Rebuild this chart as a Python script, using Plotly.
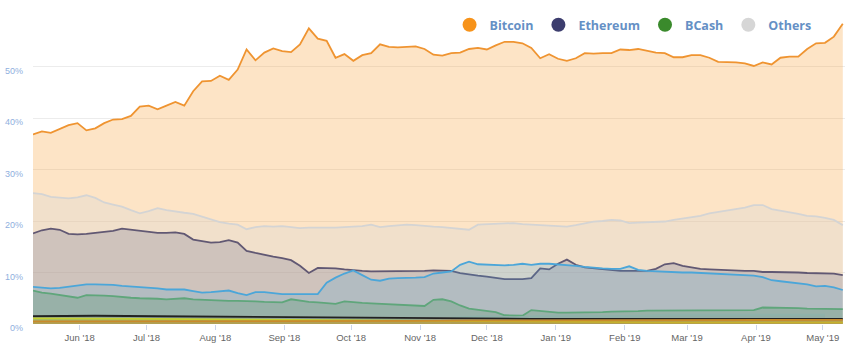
import pandas as pd
import plotly.graph_objects as go

# Daily market-cap dominance (%), sampled every 4 days from 2018-05-11
dates = pd.date_range("2018-05-11", periods=92, freq="4D")

bitcoin = [
    36.8, 37.4, 37.1, 37.8, 38.6, 39.0, 37.6, 38.0, 39.0, 39.7,
    39.8, 40.4, 42.2, 42.4, 41.7, 42.4, 43.1, 42.4, 45.2, 47.1,
    47.2, 48.2, 47.4, 49.4, 53.3, 51.2, 52.7, 53.5, 53.0, 52.8,
    54.3, 57.4, 55.4, 55.0, 51.7, 52.4, 51.1, 52.2, 52.6, 54.3,
    53.8, 53.7, 53.8, 53.9, 53.4, 52.3, 52.1, 52.6, 52.7, 53.4,
    53.6, 53.3, 54.1, 54.8, 54.8, 54.5, 53.6, 51.6, 52.4, 51.5,
    51.1, 51.6, 52.6, 52.5, 52.6, 52.6, 53.3, 53.2, 53.4, 53.0,
    52.7, 52.6, 51.8, 51.8, 52.2, 52.2, 51.7, 50.9, 50.9, 50.8,
    50.6, 50.1, 50.8, 50.4, 51.7, 51.9, 51.9, 53.4, 54.5, 54.6,
    55.8, 58.3,
]

others = [
    25.4, 25.2, 24.7, 24.5, 24.4, 24.6, 25.0, 24.5, 23.6, 23.2,
    22.8, 22.1, 21.5, 21.9, 22.5, 22.1, 21.8, 21.6, 21.4, 20.9,
    20.4, 19.8, 19.5, 19.3, 18.4, 18.8, 19.0, 18.9, 19.0, 18.8,
    18.6, 18.7, 18.7, 18.6, 18.7, 18.8, 18.9, 19.0, 19.3, 18.8,
    19.0, 19.1, 19.3, 19.2, 19.0, 18.9, 18.8, 18.6, 18.5, 18.3,
    19.3, 19.4, 19.5, 19.6, 19.6, 19.4, 19.3, 19.1, 19.0, 18.9,
    18.9, 19.2, 19.6, 19.9, 20.0, 20.2, 20.1, 19.6, 19.7, 19.8,
    19.8, 19.9, 20.2, 20.5, 20.8, 21.0, 21.5, 21.8, 22.1, 22.3,
    22.6, 23.1, 23.1, 22.3, 22.0, 21.8, 21.4, 21.0, 20.9, 20.6,
    20.2, 19.2,
]

ethereum = [
    17.6, 18.2, 18.5, 18.3, 17.5, 17.4, 17.5, 17.7, 17.9, 18.1,
    18.5, 18.3, 18.0, 17.8, 17.7, 17.7, 17.8, 17.5, 16.4, 16.1,
    15.8, 15.9, 16.3, 15.8, 14.2, 13.8, 13.4, 13.1, 12.8, 12.4,
    11.3, 9.9, 10.9, 10.9, 10.8, 10.6, 10.4, 10.3, 10.2, 10.2,
    10.2, 10.3, 10.3, 10.3, 10.3, 10.4, 10.3, 10.3, 9.9, 9.6,
    9.4, 9.2, 8.9, 8.7, 8.7, 8.7, 8.9, 10.8, 10.6, 11.7,
    12.5, 11.5, 11.0, 10.8, 10.6, 10.4, 10.3, 10.3, 10.3, 10.3,
    10.7, 11.6, 11.8, 11.3, 11.0, 10.7, 10.6, 10.5, 10.4, 10.4,
    10.3, 10.3, 10.1, 10.1, 10.1, 10.1, 10.0, 9.9, 9.9, 9.8,
    9.8, 9.5,
]

ripple = [
    7.2, 7.0, 6.9, 7.0, 7.2, 7.5, 7.7, 7.7, 7.7, 7.6,
    7.4, 7.3, 7.2, 7.1, 6.9, 6.7, 6.7, 6.7, 6.4, 6.1,
    6.2, 6.4, 6.5, 6.0, 5.6, 6.2, 6.2, 6.0, 5.8, 5.8,
    5.8, 5.8, 5.8, 8.0, 9.0, 9.8, 10.4, 9.5, 8.6, 8.4,
    8.8, 8.9, 8.9, 9.0, 9.1, 9.8, 10.0, 10.2, 11.5, 12.1,
    11.6, 11.5, 11.4, 11.4, 11.5, 11.7, 11.5, 11.7, 11.7, 11.6,
    11.4, 11.3, 11.1, 10.9, 10.8, 10.7, 10.7, 11.2, 10.5, 10.3,
    10.2, 10.1, 10.0, 10.0, 10.0, 9.9, 9.8, 9.7, 9.6, 9.5,
    9.5, 9.4, 9.1, 8.5, 8.3, 8.1, 7.9, 7.7, 7.3, 7.4,
    7.1, 6.6,
]

bcash = [
    6.5, 6.1, 5.9, 5.6, 5.4, 5.1, 5.6, 5.6, 5.5, 5.4,
    5.2, 5.1, 5.0, 5.0, 4.9, 4.8, 4.9, 5.0, 4.8, 4.7,
    4.6, 4.6, 4.5, 4.5, 4.5, 4.4, 4.3, 4.2, 4.2, 4.8,
    4.5, 4.3, 4.2, 4.0, 3.9, 4.4, 4.2, 4.1, 4.0, 3.9,
    3.8, 3.8, 3.7, 3.6, 3.5, 4.7, 4.8, 4.4, 3.6, 3.0,
    2.8, 2.5, 2.3, 1.7, 1.6, 1.6, 2.7, 2.5, 2.3, 2.2,
    2.2, 2.2, 2.2, 2.3, 2.3, 2.4, 2.4, 2.4, 2.5, 2.6,
    2.6, 2.6, 2.6, 2.6, 2.6, 2.6, 2.6, 2.6, 2.6, 2.6,
    2.6, 2.7, 3.2, 3.2, 3.2, 3.2, 3.1, 3.0, 3.0, 2.9,
    2.9, 2.9,
]

# Smaller coins, sampled more coarsely
dates_coarse = pd.date_range("2018-05-11", periods=14, freq="28D")
litecoin = [1.5, 1.6, 1.5, 1.4, 1.3, 1.2, 1.1, 1.0, 1.0, 1.0, 1.0, 1.0, 1.0, 1.0]
eos = [0.5, 0.5, 0.5, 0.5, 0.5, 0.6, 0.6, 0.7, 0.7, 0.7, 0.8, 0.8, 0.8, 0.8]
stellar = [1.1, 1.1, 1.0, 0.9, 0.8, 0.7, 0.6, 0.5, 0.4, 0.4, 0.3, 0.3, 0.3, 0.3]

dates_bsv = pd.date_range("2018-11-15", periods=13, freq="14D")
bsv = [1.2, 1.5, 1.3, 1.6, 1.6, 1.5, 1.6, 1.8, 1.8, 1.8, 1.8, 1.9, 1.8]

y_ticks = [0, 10, 20, 30, 40, 50, 60]
y_labels = ["0%", "10%", "20%", "30%", "40%", "50%", ""]

fig = go.Figure()

area_series = [
    ("Bitcoin", dates, bitcoin, "#ef9431", "rgba(247,147,26,0.25)"),
    ("Others", dates, others, "#d4d4d4", "rgba(215,215,215,0.3)"),
    ("Ethereum", dates, ethereum, "#615873", "rgba(75,80,130,0.2)"),
    ("Ripple", dates, ripple, "#4ba6d9", "rgba(70,160,215,0.2)"),
    ("BCash", dates, bcash, "#5fa67b", "rgba(60,140,80,0.22)"),
    ("BSV", dates_bsv, bsv, "#8fb2aa", "rgba(120,160,150,0.15)"),
    ("Litecoin", dates_coarse, litecoin, "#222222", "rgba(60,60,60,0.12)"),
    ("Stellar", dates_coarse, stellar, "#c4d12e", "rgba(196,209,46,0.35)"),
    ("EOS", dates_coarse, eos, "#c98a2b", "rgba(201,138,43,0.45)"),
]

for name, x, y, line_color, fill_color in area_series:
    fig.add_trace(go.Scatter(
        x=x, y=y, name=name, mode="lines",
        line=dict(color=line_color, width=1.8),
        fill="tozeroy", fillcolor=fill_color,
        showlegend=False, hoverinfo="skip",
    ))

# Legend entries with round markers
legend_items = [
    ("Bitcoin", "#f7931a"),
    ("Ethereum", "#3c3d6e"),
    ("BCash", "#3a8a2c"),
    ("Others", "#d6d6d6"),
]
for name, color in legend_items:
    fig.add_trace(go.Scatter(
        x=[None], y=[None], name=name, mode="markers",
        marker=dict(color=color, size=14, symbol="circle"),
        hoverinfo="skip",
    ))

fig.update_layout(
    width=850, height=348,
    margin=dict(l=33, r=5, t=15, b=21),
    paper_bgcolor="white", plot_bgcolor="white",
    font=dict(family="Liberation Sans, Arial, sans-serif"),
    legend=dict(
        orientation="h", x=0.513, y=1.016, xanchor="left", yanchor="top",
        bgcolor="rgba(0,0,0,0)",
        font=dict(family="Open Sans, sans-serif", size=12.5, color="#6590c5", weight="bold"),
        itemclick=False,
    ),
    xaxis=dict(
        type="date",
        range=["2018-05-11", "2019-05-11"],
        tick0="2018-06-01", dtick="M1", tickformat="%b '%y",
        ticks="outside", ticklen=5, tickcolor="#ccd6eb",
        showgrid=False, showline=False, zeroline=False,
        tickfont=dict(size=9.5, color="#666666"),
    ),
    yaxis=dict(
        range=[0, 60], tickvals=y_ticks, ticktext=y_labels,
        showgrid=True, gridcolor="#ececec", gridwidth=1,
        zeroline=False, showline=False, ticks="",
        tickfont=dict(size=9, color="#8fb0de"),
        ticklabelshift=4, ticklabelstandoff=9,
    ),
    hovermode=False,
)

fig.write_html("out.html", config={"displayModeBar": False})
